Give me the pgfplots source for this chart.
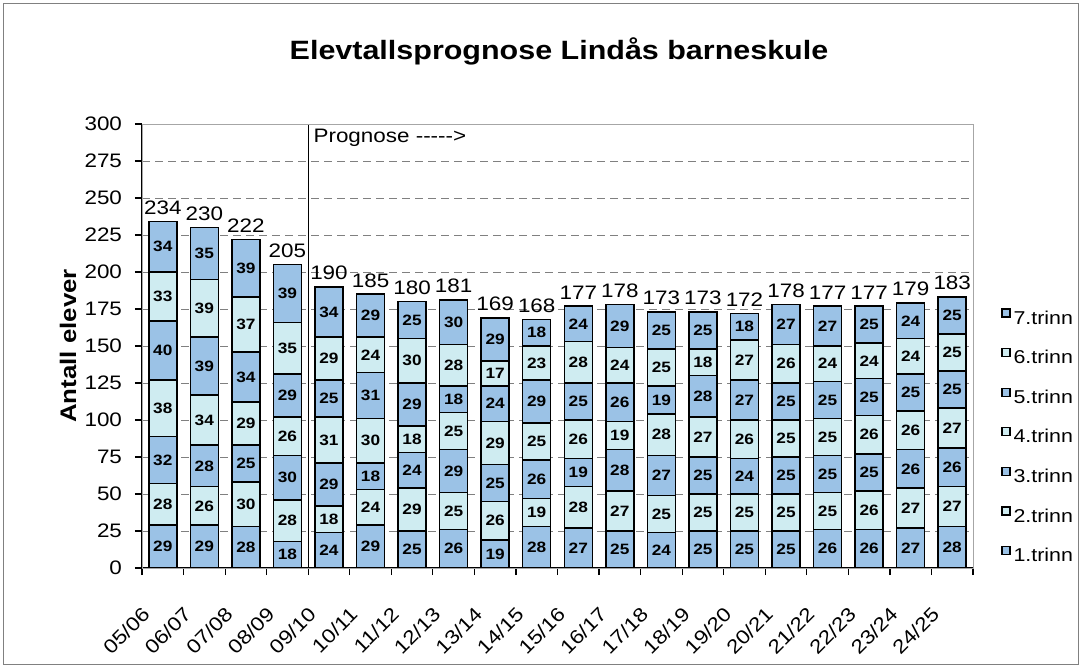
\documentclass[border=0pt]{standalone}
\usepackage{fontspec}
\setmainfont{Liberation Sans}[FakeStretch=1.15]
\usepackage{pgfplots}
\usepackage{pgfplotstable}
\pgfplotsset{compat=1.18}
\definecolor{cblue}{RGB}{155,194,230}
\definecolor{clight}{RGB}{207,236,241}
\newcommand{\tickfont}{\fontsize{9.75bp}{11bp}\selectfont}
\newcommand{\segfont}{\fontsize{7.5bp}{9bp}\selectfont\bfseries}
\pgfplotsset{
  seg/.style={only marks, mark=none, nodes near coords, point meta=explicit,
    every node near coord/.append style={anchor=center, font=\segfont, inner sep=0pt, text=black}},
  samebox/.style={at={(0,0)}, anchor=south west, scale only axis, width=415.5bp, height=222bp,
    xmin=-0.5, xmax=19.5, ymin=0, ymax=300},
}
\pgfplotstableread{
x t1 t2 t3 t4 t5 t6 t7 tot
0 29 28 32 38 40 33 34 234
1 29 26 28 34 39 39 35 230
2 28 30 25 29 34 37 39 222
3 18 28 30 26 29 35 39 205
4 24 18 29 31 25 29 34 190
5 29 24 18 30 31 24 29 185
6 25 29 24 18 29 30 25 180
7 26 25 29 25 18 28 30 181
8 19 26 25 29 24 17 29 169
9 28 19 26 25 29 23 18 168
10 27 28 19 26 25 28 24 177
11 25 27 28 19 26 24 29 178
12 24 25 27 28 19 25 25 173
13 25 25 25 27 28 18 25 173
14 25 25 24 26 27 27 18 172
15 25 25 25 25 25 26 27 178
16 26 25 25 25 25 24 27 177
17 26 26 25 26 25 24 25 177
18 27 27 26 26 25 24 24 179
19 28 27 26 27 25 25 25 183
}\data
\begin{document}
\begin{tikzpicture}
\begin{axis}[
  samebox,
  ybar stacked, bar width=14bp,
  axis x line*=bottom, axis y line*=left,
  axis line style={-, black, line width=0.7bp},
  xtick={0,...,19},
  xticklabels={05/06,06/07,07/08,08/09,09/10,10/11,11/12,12/13,13/14,14/15,15/16,16/17,17/18,18/19,19/20,20/21,21/22,22/23,23/24,24/25},
  major x tick style={draw=none},
  minor xtick={-0.5,0.5,...,19.5},
  minor x tick style={black, line width=0.6bp},
  minor tick length=3.5bp,
  ytick={0,25,...,300},
  major tick length=3.5bp,
  tick align=outside,
  major y tick style={black, line width=0.6bp},
  ymajorgrids,
  major grid style={gray, line width=0.5bp, dash pattern=on 4bp off 2.5bp},
  /pgf/number format/assume math mode=true,
  ticklabel style={font=\tickfont},
  yticklabel style={xshift=-3bp},
  xticklabel style={xshift=-10.9bp, yshift=-15.2bp, rotate=45, anchor=north east, inner sep=0pt},
  ylabel={Antall elever},
  every axis y label/.style={at={(axis description cs:-0.089,0.5)}, rotate=90, anchor=center,
    font=\fontsize{11.25bp}{13bp}\selectfont\bfseries},
  reverse legend,
  legend style={draw=none, fill=none, font=\fontsize{9.3bp}{11bp}\selectfont,
    at={(rel axis cs:1,0.2995)}, anchor=west, xshift=11bp,
    row sep=12bp, column sep=1.5bp,
    nodes={inner sep=0pt, text height=7bp, text depth=0pt}},
  legend cell align=left,
  legend image code/.code={\draw[#1, line width=0.6bp] (0bp,0bp) rectangle (4bp,4bp);},
  clip=false,
]
\draw[gray!70, line width=0.5bp] (rel axis cs:0,0) rectangle (rel axis cs:1,1);
\addplot[fill=cblue, draw=black, line width=0.75bp] table[x=x, y=t1] {\data};
\addlegendentry{1.trinn}
\addplot[fill=clight, draw=black, line width=0.75bp] table[x=x, y=t2] {\data};
\addlegendentry{2.trinn}
\addplot[fill=cblue, draw=black, line width=0.75bp] table[x=x, y=t3] {\data};
\addlegendentry{3.trinn}
\addplot[fill=clight, draw=black, line width=0.75bp] table[x=x, y=t4] {\data};
\addlegendentry{4.trinn}
\addplot[fill=cblue, draw=black, line width=0.75bp] table[x=x, y=t5] {\data};
\addlegendentry{5.trinn}
\addplot[fill=clight, draw=black, line width=0.75bp] table[x=x, y=t6] {\data};
\addlegendentry{6.trinn}
\addplot[fill=cblue, draw=black, line width=0.75bp] table[x=x, y=t7] {\data};
\addlegendentry{7.trinn}
\draw[black, line width=0.7bp] (axis cs:3.5,0) -- (axis cs:3.5,300);
\node[anchor=north west, font=\tickfont, inner sep=2.5bp] at (axis cs:3.5,300) {Prognose -{}-{}-{}-{}->};
\end{axis}
\begin{axis}[samebox, hide axis, clip=false, /pgf/number format/assume math mode=true]
\addplot[seg] table[x=x, y expr={\thisrow{t1}/2}, meta=t1] {\data};
\addplot[seg] table[x=x, y expr={\thisrow{t1}+\thisrow{t2}/2}, meta=t2] {\data};
\addplot[seg] table[x=x, y expr={\thisrow{t1}+\thisrow{t2}+\thisrow{t3}/2}, meta=t3] {\data};
\addplot[seg] table[x=x, y expr={\thisrow{t1}+\thisrow{t2}+\thisrow{t3}+\thisrow{t4}/2}, meta=t4] {\data};
\addplot[seg] table[x=x, y expr={\thisrow{t1}+\thisrow{t2}+\thisrow{t3}+\thisrow{t4}+\thisrow{t5}/2}, meta=t5] {\data};
\addplot[seg] table[x=x, y expr={\thisrow{t1}+\thisrow{t2}+\thisrow{t3}+\thisrow{t4}+\thisrow{t5}+\thisrow{t6}/2}, meta=t6] {\data};
\addplot[seg] table[x=x, y expr={\thisrow{tot}-\thisrow{t7}/2}, meta=t7] {\data};
\addplot[only marks, mark=none, nodes near coords, point meta=explicit,
  every node near coord/.append style={font=\tickfont, anchor=south, inner sep=0pt, yshift=3.3bp, text=black}]
  table[x=x, y=tot, meta=tot] {\data};
\end{axis}
\node[font=\fontsize{13.25bp}{15bp}\selectfont\bfseries] at (208.5bp,258.5bp) {Elevtallsprognose Lindås barneskule};
\draw[gray, line width=0.5bp] (-69bp,-48bp) rectangle (468bp,282bp);
\path (-71bp,-50bp) rectangle (470bp,284bp);
\end{tikzpicture}
\end{document}
